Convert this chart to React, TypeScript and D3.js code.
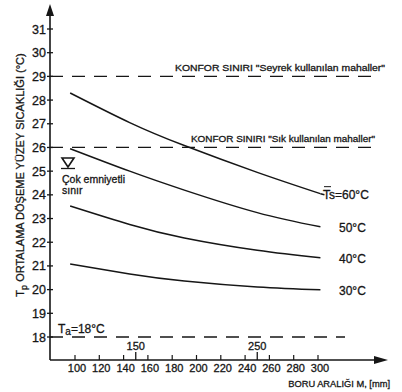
import * as d3 from "d3";

const spacings = [96, 145, 190, 250, 302];
const series = [
  { label: "60°C", values: [28.3, 27.05, 26.08, 24.95, 24.05] },
  { label: "50°C", values: [25.95, 25.0, 24.2, 23.25, 22.65] },
  { label: "40°C", values: [23.53, 22.75, 22.18, 21.66, 21.34] },
  { label: "30°C", values: [21.08, 20.66, 20.36, 20.11, 19.99] },
];
const yTicks = d3.range(18, 32);
const xTicks = [100, 120, 140, 160, 180, 200, 220, 240, 260, 280, 300];
const xMajor = [150, 250];
const limits = [
  { value: 29, text: "KONFOR SINIRI \"Seyrek kullanılan mahaller\"" },
  { value: 26, text: "KONFOR SINIRI \"Sık kullanılan mahaller\"" },
];
const ambient = 18;

const W = 402;
const H = 392;
const font = "'Liberation Sans', Arial, sans-serif";
const ink = "#161616";
// scanned print looks a bit heavier than plain text
const heavy = { stroke: ink, strokeWidth: 0.3 };

export default function App() {
  const x = d3.scaleLinear().domain([100, 300]).range([75, 318]);
  const y = d3.scaleLinear().domain([18, 31]).range([337, 29]);
  const x0 = 50;
  const yBase = 360;

  const line = d3
    .line<number>()
    .x((_, i) => x(spacings[i]))
    .y((d) => y(d))
    .curve(d3.curveNatural);

  const endX = x(spacings[spacings.length - 1]);

  return (
    <svg
      width={W}
      height={H}
      style={{ position: "absolute", left: 0, top: 0, background: "#fff" }}
      fontFamily={font}
    >
      {/* axes */}
      <line x1={x0} y1={yBase} x2={x0} y2={14} stroke={ink} strokeWidth={1.6} />
      <path d={`M${x0 - 4},16 L${x0},4 L${x0 + 4},16 Z`} fill={ink} />
      <line x1={x0} y1={yBase} x2={376} y2={yBase} stroke={ink} strokeWidth={1.6} />
      <path d={`M374,${yBase - 4} L388,${yBase} L374,${yBase + 4} Z`} fill={ink} />

      {/* y ticks */}
      {yTicks.map((t) => (
        <g key={t}>
          <line x1={x0 - 3} x2={x0 + 3} y1={y(t)} y2={y(t)} stroke={ink} strokeWidth={1.3} />
          <text x={x0 - 4} y={y(t) + 4.5} textAnchor="end" fontSize={12.5} fill={ink} {...heavy}>
            {t}
          </text>
        </g>
      ))}

      {/* x ticks */}
      {xTicks.map((t) => (
        <g key={t}>
          <line x1={x(t)} x2={x(t)} y1={yBase} y2={yBase - 5} stroke={ink} strokeWidth={1.2} />
          <text x={x(t) + 2} y={yBase + 12} textAnchor="middle" fontSize={11} fill={ink} {...heavy}>
            {t}
          </text>
        </g>
      ))}
      {xMajor.map((t) => (
        <g key={t}>
          <line x1={x(t)} x2={x(t)} y1={yBase} y2={yBase - 8} stroke={ink} strokeWidth={1.3} />
          <text x={x(t)} y={yBase - 10} textAnchor="middle" fontSize={11} fill={ink} {...heavy}>
            {t}
          </text>
        </g>
      ))}

      {/* comfort limits */}
      {limits.map((l) => (
        <line
          key={l.value}
          x1={x0}
          x2={374}
          y1={y(l.value)}
          y2={y(l.value)}
          stroke={ink}
          strokeWidth={1.3}
          strokeDasharray="13,9"
        />
      ))}
      <text x={175} y={y(29) - 5} fontSize={9.3} fill={ink} textLength={210} lengthAdjust="spacingAndGlyphs" {...heavy}>
        {limits[0].text}
      </text>
      <text x={191} y={y(26) - 5} fontSize={9.3} fill={ink} textLength={184} lengthAdjust="spacingAndGlyphs" {...heavy}>
        {limits[1].text}
      </text>

      {/* ambient */}
      <line
        x1={x0}
        x2={345}
        y1={y(ambient)}
        y2={y(ambient)}
        stroke={ink}
        strokeWidth={1.3}
        strokeDasharray="13,9"
      />
      <text x={58} y={y(ambient) - 4} fontSize={12} fill={ink} {...heavy}>
        T<tspan fontSize={10} dy={2}>a</tspan>
        <tspan dy={-2}>=18°C</tspan>
      </text>

      {/* safety marker */}
      <path d="M62,158 L74,158 L68,167 Z" fill="none" stroke={ink} strokeWidth={1.6} />
      <line x1={61} x2={75} y1={168.5} y2={168.5} stroke={ink} strokeWidth={1.3} />
      <text x={62} y={183} fontSize={10.5} fill={ink} {...heavy}>Çok emniyetli</text>
      <text x={62} y={194} fontSize={10.5} fill={ink} {...heavy}>sınır</text>

      {/* curves */}
      {series.map((s) => (
        <path key={s.label} d={line(s.values) || ""} fill="none" stroke={ink} strokeWidth={1.5} />
      ))}
      {series.map((s, i) => {
        const yv = y(s.values[s.values.length - 1]);
        if (i === 0) {
          return (
            <g key={s.label}>
              <line x1={endX} x2={endX + 4} y1={yv} y2={yv + 1} stroke={ink} strokeWidth={1.5} />
              <text x={323} y={yv + 5} fontSize={12} fill={ink} {...heavy}>
                Ts={s.label}
              </text>
              <line x1={324} x2={331} y1={yv - 7} y2={yv - 7} stroke={ink} strokeWidth={1} />
            </g>
          );
        }
        return (
          <text key={s.label} x={339} y={yv + 5} fontSize={12} fill={ink} {...heavy}>
            {s.label}
          </text>
        );
      })}

      {/* axis titles */}
      <text x={390} y={387} textAnchor="end" fontSize={9.3} fill={ink} {...heavy}>
        BORU ARALIĞI M, [mm]
      </text>
      <text
        transform="translate(24,175) rotate(-90)"
        textAnchor="middle"
        fontSize={11}
        fill={ink}
        {...heavy}
      >
        T<tspan fontSize={9} dy={3}>p</tspan>
        <tspan dy={-3}> ORTALAMA DÖŞEME YÜZEY SICAKLIĞI (°C)</tspan>
      </text>
    </svg>
  );
}
